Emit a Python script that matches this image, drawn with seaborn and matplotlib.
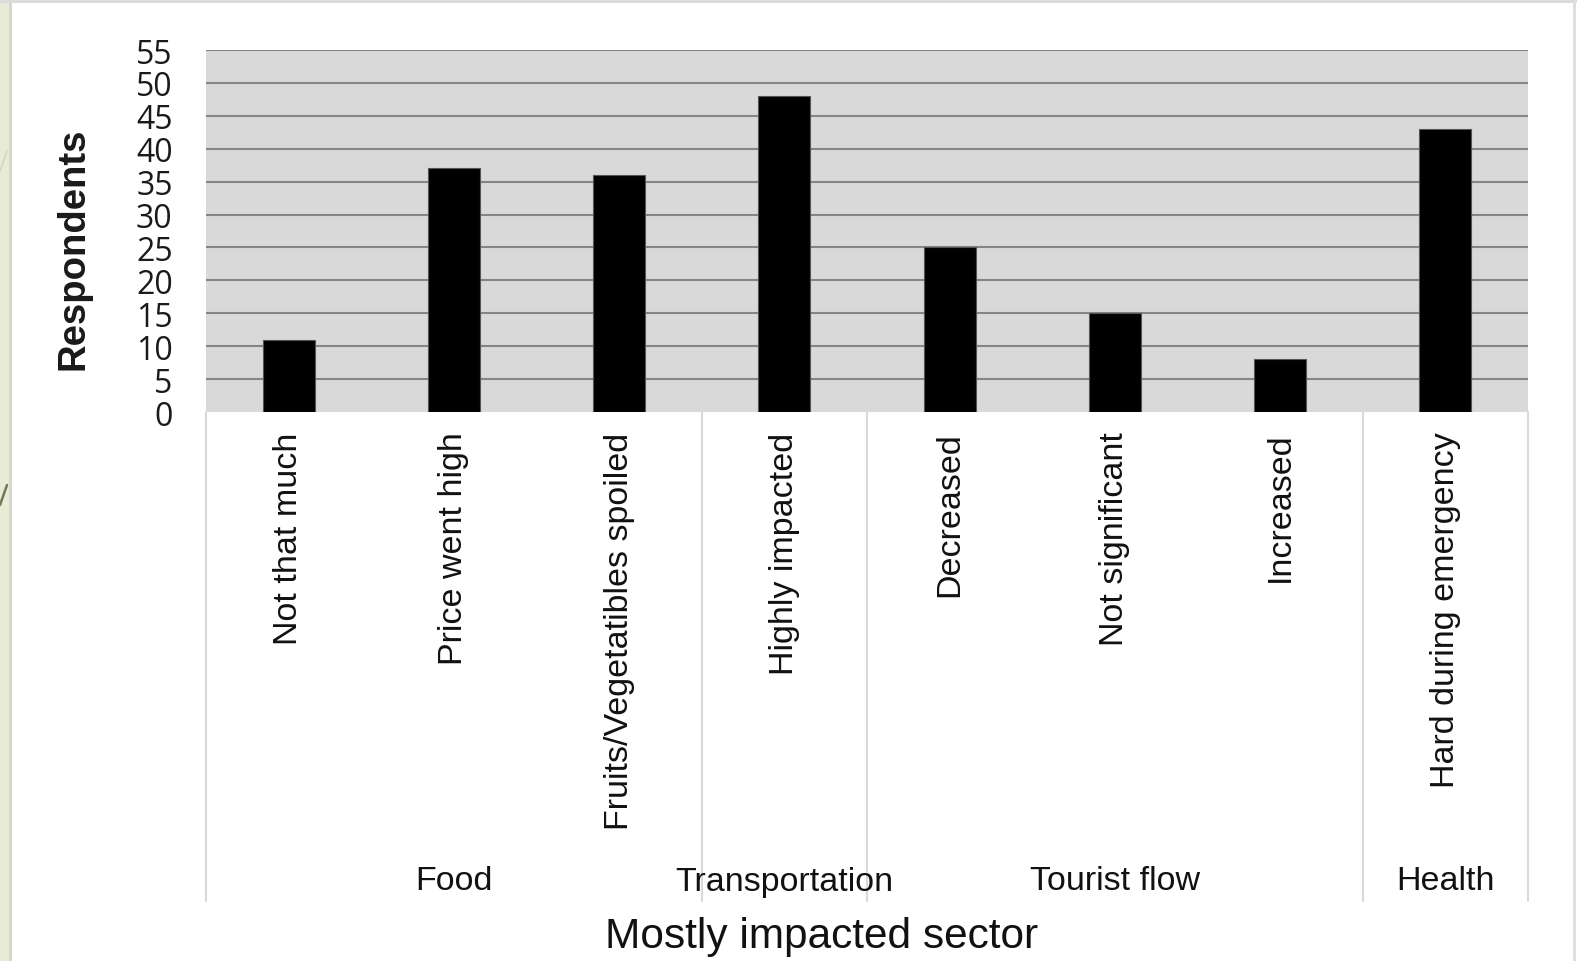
import matplotlib
matplotlib.use("Agg")
import matplotlib.pyplot as plt
import matplotlib.transforms as mtransforms
from matplotlib.patches import Rectangle
from matplotlib.lines import Line2D
import seaborn as sns
import pandas as pd

# Survey responses per impact category
categories = ["Not that much", "Price went high", "Fruits/Vegetatibles spoiled",
              "Highly impacted", "Decreased", "Not significant", "Increased",
              "Hard during emergency"]
respondents = [11, 37, 36, 48, 25, 15, 8, 43]

# Sector groups: name and number of categories each spans
sectors = ["Food", "Transportation", "Tourist flow", "Health"]
sector_sizes = [3, 1, 3, 1]

y_ticks = list(range(0, 56, 5))

df = pd.DataFrame({"category": categories, "respondents": respondents})

sns.set_theme(style="white")
plt.rcParams["font.family"] = ["Liberation Sans", "DejaVu Sans"]

W, H = 1577, 962
fig = plt.figure(figsize=(W / 100, H / 100), dpi=100)
fig.patch.set_facecolor("white")

# slide frame: green strip on the left, light grey borders
fig.patches.append(Rectangle((0, 0), 9 / W, 1, transform=fig.transFigure,
                             facecolor="#e7ecd6", edgecolor="none", zorder=0))
fig.patches.append(Rectangle((9 / W, 0), 3 / W, 1, transform=fig.transFigure,
                             facecolor="#d6d6d6", edgecolor="none", zorder=0))
fig.patches.append(Rectangle((0, 1 - 4 / H), 1, 4 / H, transform=fig.transFigure,
                             facecolor="#dcdcdc", edgecolor="none", zorder=0))
fig.patches.append(Rectangle((1573 / W, 0), 3 / W, 1, transform=fig.transFigure,
                             facecolor="#dedede", edgecolor="none", zorder=0))
fig.lines.append(Line2D([0, 7 / W], [1 - 506 / H, 1 - 486 / H], transform=fig.transFigure,
                        color="#7a7458", lw=1.8))
fig.lines.append(Line2D([0, 7 / W], [1 - 172 / H, 1 - 152 / H], transform=fig.transFigure,
                        color="#d2d7c3", lw=1.2))

left, right = 206 / W, 1528 / W
bottom, top = 1 - 413 / H, 1 - 51 / H
ax = fig.add_axes([left, bottom, right - left, top - bottom])
ax.set_facecolor("#d9d9d9")

sns.barplot(data=df, x="category", y="respondents", color="black", saturation=1,
            width=0.315, edgecolor="#555555", linewidth=0.8, ax=ax, zorder=3)

ax.set_ylim(0, 55)
ax.set_xlim(-0.5, len(categories) - 0.5)
ax.set_yticks(y_ticks)
ax.set_yticklabels([str(t) for t in y_ticks], fontfamily="Open Sans", fontsize=23,
                   color="#1a1a1a")
for t in y_ticks[1:]:
    ax.axhline(t, color="#858585", lw=1.5, zorder=1)
ax.tick_params(axis="y", length=0, pad=24)
ax.tick_params(axis="x", length=0, pad=14)
ax.set_xticks(range(len(categories)))
ax.set_xticklabels(categories, rotation=90, fontsize=24.5, color="#111111", va="top")
for s in ax.spines.values():
    s.set_visible(False)

ax.set_xlabel("")
axw, axh = 1528 - 206, 413 - 51
ax.set_ylabel("")
ax.text(-(206 - 74) / axw, 1 - (249 - 51) / axh, "Respondents", transform=ax.transAxes,
        rotation=90, ha="center", va="center", fontsize=27.5, fontweight="bold",
        color="#1a1a1a")

# group separators and sector names below the category labels
trans = mtransforms.blended_transform_factory(ax.transData, ax.transAxes)
sep_bottom = -(902 - 413) / axh
edges = [-0.5]
for n in sector_sizes:
    edges.append(edges[-1] + n)
for e in edges:
    ax.plot([e, e], [0, sep_bottom], transform=trans, color="#d9d9d9", lw=1.5,
            clip_on=False)
for name, a, b in zip(sectors, edges[:-1], edges[1:]):
    ax.text((a + b) / 2, -(882 - 413) / axh, name, transform=trans, ha="center",
            va="center", fontsize=24.5, color="#111111")

fig.text(822 / W, 1 - 937 / H, "Mostly impacted sector", ha="center", va="center",
         fontsize=30.5, color="#111111")

fig.savefig("out.png", dpi=100)
